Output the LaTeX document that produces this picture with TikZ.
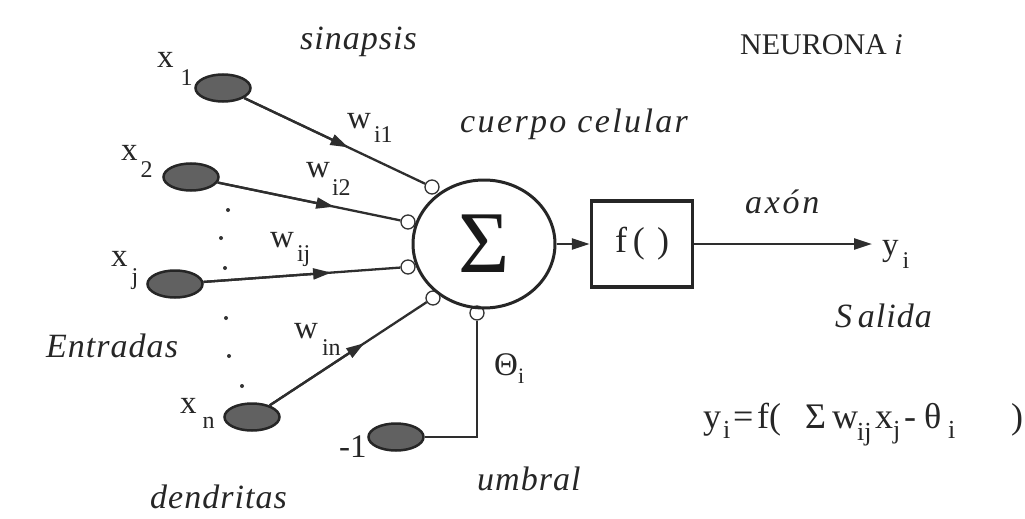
\documentclass[tikz,border=0pt]{standalone}
\usepackage{fontspec}
\setmainfont{Liberation Serif}
\usetikzlibrary{shapes.geometric,arrows.meta,calc}
\newcommand{\lsub}[3][24]{\raisebox{-#2}{\fontsize{#1}{#1}\selectfont #3}}
\newcommand{\fpart}[2]{\makebox[#1][l]{#2}}
\begin{document}
\begin{tikzpicture}[x=1pt,y=-1pt,
  inp/.style={ellipse, draw=black!85, fill=black!62, minimum width=55pt, minimum height=27pt, inner sep=0pt, line width=2.5pt},
  syn/.style={circle, draw=black!80, fill=white, minimum size=14pt, inner sep=0pt, line width=1.3pt},
  wire/.style={draw=black!82, line width=2.3pt},
  tip/.style={-{Triangle[length=18pt,width=11pt]}},
  lbl/.style={font=\fontsize{33}{38}\selectfont, inner sep=0pt, anchor=base west, text=black!85},
  ital/.style={font=\fontsize{34}{38}\selectfont\itshape\addfontfeature{LetterSpace=3}, inner sep=0pt, anchor=base west, text=black!85},
  dotm/.style={circle, fill=black!80, minimum size=4pt, inner sep=0pt}]
\useasboundingbox (0,0) rectangle (1025,519);
\fill[white] (0,0) rectangle (1025,519);

% synapses
\node[syn] (s1) at (432,187) {};
\node[syn] (s2) at (408,222) {};
\node[syn] (sj) at (408,267) {};
\node[syn] (sn) at (433,298) {};
\node[syn] (st) at (477,313) {};

% soma
\node[ellipse, draw=black!85, line width=3pt, minimum width=142pt, minimum height=128pt, inner sep=0pt,
      font=\fontsize{88}{90}\selectfont, text=black!90] (soma) at (484,244) {Σ};

% f box
\node[draw=black!85, line width=3.5pt, minimum width=101pt, minimum height=86pt, inner sep=0pt,
      font=\fontsize{36}{40}\selectfont, text=black!85] (fbox) at (642,244) {\raisebox{-5pt}{f\,(\,\,)}};
\coordinate (yend) at (872,244);

% inputs
\node[inp] (e1) at (223,88) {};
\node[inp] (e2) at (191,177) {};
\node[inp] (ej) at (175,284) {};
\node[inp] (en) at (252,417) {};
\node[inp] (m1) at (396,437) {};

% wires
\draw[wire] (e1) -- (s1);
\draw[wire,tip] (e1) -- ($(e1)!0.6!(s1)$);
\draw[wire] (e2) -- (s2);
\draw[wire,tip] (e2) -- ($(e2)!0.66!(s2)$);
\draw[wire] (ej) -- (sj);
\draw[wire,tip] (ej) -- ($(ej)!0.67!(sj)$);
\draw[wire] (en) -- (sn);
\draw[wire,tip] (en) -- ($(en)!0.62!(sn)$);
\draw[wire] (m1) -| (st);
\draw[wire,tip] (soma) -- (fbox);
\draw[wire,tip] (fbox) -- (yend);

% dots
\foreach \p/\q in {228/210, 221/238, 225/268, 226/318, 229/356, 242/386}
  \node[dotm] at (\p,\q) {};

% input labels
\node[lbl] (lx1) at (157,67) {x\hspace{7pt}\lsub{18pt}{1}};
\node[lbl] (lx2) at (121,160) {x\hspace{3pt}\lsub{17pt}{2}};
\node[lbl] (lxj) at (111,266) {x\hspace{4pt}\lsub{18pt}{j}};
\node[lbl] (lxn) at (180,413) {x\hspace{6pt}\lsub{15pt}{n}};
\node[lbl] (lm1) at (339,457) {-1};

% weight labels
\node[lbl] (lw1) at (347,128) {w\hspace{3pt}\lsub{14pt}{i1}};
\node[lbl] (lw2) at (306,177) {w\hspace{2pt}\lsub{18pt}{i2}};
\node[lbl] (lwj) at (270,247) {w\hspace{3pt}\lsub{14pt}{ij}};
\node[lbl] (lwn) at (294,338) {w\hspace{4pt}\lsub{17pt}{in}};
\node[lbl] (lth) at (494,375) {Θ\lsub[22]{8pt}{i}};
\node[lbl] (lyi) at (882,255) {y\hspace{4pt}\lsub{13pt}{i}};

% italic labels
\node[ital] (tsin) at (300,50) {sinapsis};
\node[ital,font=\fontsize{34}{38}\selectfont\itshape\addfontfeature{LetterSpace=7}] (tcue) at (460,132) {cuerpo celular};
\node[ital] (tent) at (46,357) {Entradas};
\node[ital] (tden) at (150,508) {dendritas};
\node[ital] (tumb) at (477,490) {umbral};
\node[ital,font=\fontsize{34}{38}\selectfont\itshape\addfontfeature{LetterSpace=8}] (taxo) at (745,213) {axón};
\node[ital] (tsal) at (835,327) {S\,alida};
\node[lbl,font=\fontsize{30}{36}\selectfont] (tneu) at (740,55) {NEURONA \textit{i}};

% formula
\node[lbl,font=\fontsize{36}{40}\selectfont] (form) at (703,428) {%
\fpart{20pt}{y}\fpart{10pt}{\lsub[26]{10pt}{i}}\fpart{24pt}{=}\fpart{48pt}{f(}%
\fpart{27pt}{Σ}\fpart{25pt}{w}\fpart{18pt}{\lsub[26]{12pt}{ij}}\fpart{18pt}{x}%
\fpart{11pt}{\lsub[26]{10pt}{j}}\fpart{20pt}{-}\fpart{24pt}{θ}\fpart{63pt}{\lsub[26]{10pt}{i}})};
\end{tikzpicture}
\end{document}
